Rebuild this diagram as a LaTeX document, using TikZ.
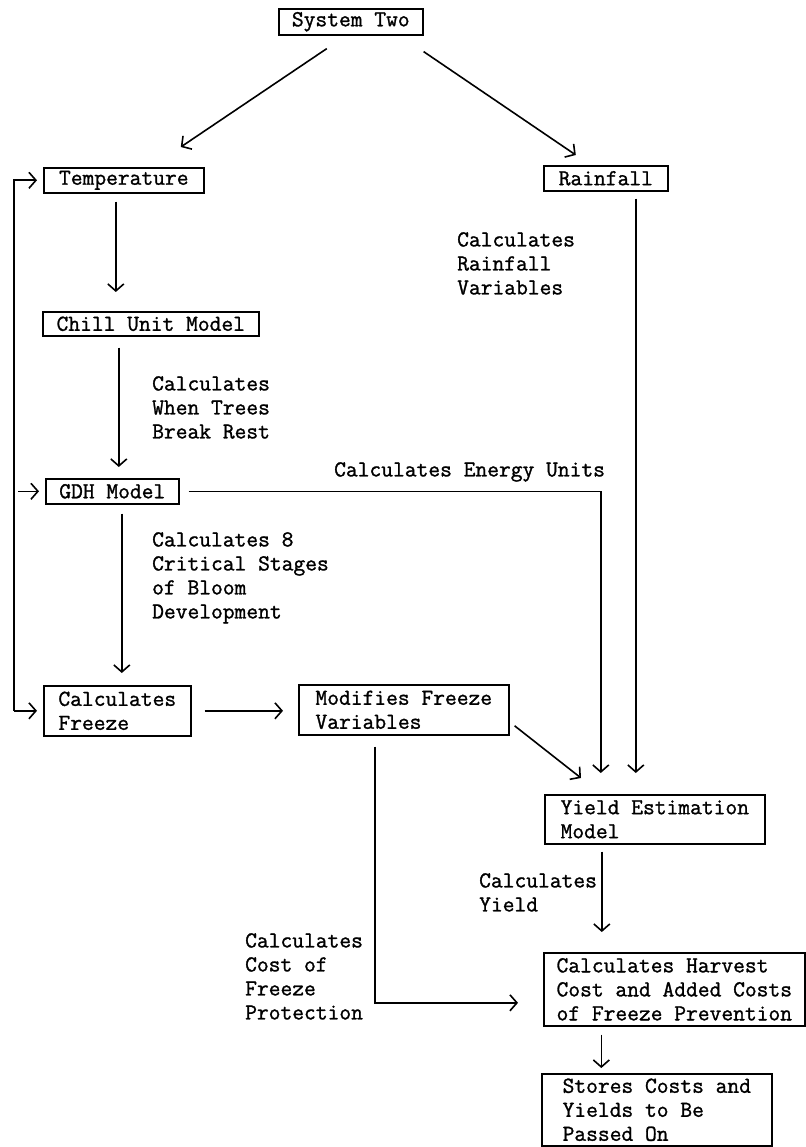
\documentclass[tikz,border=0pt]{standalone}
\usepackage{fontspec}
\usepackage{xcolor}
\usetikzlibrary{arrows.meta,positioning}
\newfontfamily\typewr{Latin Modern Mono}[FakeBold=1.2]
\tikzset{
  box/.style={
    draw,
    line width=1.6pt,
    anchor=north west,
    align=left,
    inner xsep=12pt,
    inner ysep=2pt,
    font=\typewr\fontsize{22.86pt}{24pt}\selectfont
  },
  lab/.style={
    anchor=north west,
    align=left,
    inner sep=0pt,
    font=\typewr\fontsize{22.86pt}{24pt}\selectfont
  },
  flow/.style={-{Straight Barb[length=7pt,width=16pt]}, line width=1.6pt}
}
\begin{document}
\begin{tikzpicture}[x=1pt,y=-1pt]
  \useasboundingbox (0,0) rectangle (805,1147);

  \node[box, minimum width=144pt, minimum height=26pt] (sys) at (278,8) {System Two};
  \node[box, minimum width=160pt, minimum height=25pt] (temp) at (43,167) {Temperature};
  \node[box, minimum width=124pt, minimum height=25pt] (rain) at (543,165) {Rainfall};
  \node[box, minimum width=216pt, minimum height=24pt] (chill) at (42,311) {Chill Unit Model};
  \node[box, minimum width=133pt, minimum height=25pt] (gdh) at (45,478) {GDH Model};
  \node[box, minimum width=147pt, minimum height=50pt] (freeze) at (43,685) {Calculates\\Freeze};
  \node[box, minimum width=210pt, minimum height=50pt] (modif) at (298,684) {Modifies Freeze\\Variables};
  \node[box, minimum width=220pt, minimum height=49pt] (yield) at (544,794) {Yield Estimation\\Model};
  \node[box, minimum width=261pt, minimum height=73pt] (harvest) at (543,952) {Calculates Harvest\\Cost and Added Costs\\of Freeze Prevention};
  \node[box, minimum width=230pt, minimum height=72pt] (stores) at (541,1073) {Stores Costs and\\Yields to Be\\Passed On};

  \node[lab] (rainlab) at (457,232) {Calculates\\Rainfall\\Variables};
  \node[lab] (chilllab) at (152,376) {Calculates\\When Trees\\Break Rest};
  \node[lab] (energylab) at (334,462) {Calculates Energy Units};
  \node[lab] (bloomlab) at (152,532) {Calculates 8\\Critical Stages\\of Bloom\\Development};
  \node[lab] (yieldlab) at (479,873) {Calculates\\Yield};
  \node[lab] (costlab) at (245,933) {Calculates\\Cost of\\Freeze\\Protection};

  \coordinate (t1) at ([xshift=-8pt]temp.south);
  \coordinate (c1) at ([xshift=-32pt]chill.south);
  \coordinate (g1) at ([xshift=9.5pt]gdh.south);
  \coordinate (y1) at ([xshift=-53pt]yield.south);
  \coordinate (h1) at ([xshift=-73pt]harvest.south);
  \coordinate (m1) at ([xshift=-29pt]modif.south);
  \coordinate (ltop) at ([xshift=-29pt]temp.west);
  \coordinate (lbot) at ([xshift=-29pt]freeze.west);

  \draw[flow] ([shift={(-24pt,-13pt)}]sys.south) -- ([shift={(57pt,20pt)}]temp.north);
  \draw[flow] ([shift={(0pt,-16pt)}]sys.south east) -- ([shift={(-30pt,10pt)}]rain.north);
  \draw[flow, shorten <=8pt, shorten >=19pt] (t1) -- (t1 |- chill.north);
  \draw[flow, shorten <=11pt, shorten >=11pt] (c1) -- (c1 |- gdh.north);
  \draw[flow, shorten <=9pt, shorten >=12pt] (g1) -- (g1 |- freeze.north);
  \draw[flow, shorten <=13pt, shorten >=15pt] (freeze.east) -- (freeze.east -| modif.west);
  \draw[flow] ([shift={(5pt,-16pt)}]modif.east) -- ([shift={(37pt,16pt)}]yield.north west);
  \draw[flow, shorten <=9pt] (gdh.east) -| ([shift={(-54pt,21pt)}]yield.north);
  \draw[flow] ([shift={(30pt,-7pt)}]rain.south) -- ([shift={(-19pt,21pt)}]yield.north);
  \draw[flow, shorten <=7pt, shorten >=20pt] (y1) -- (y1 |- harvest.north);
  \draw[flow, shorten <=8pt, shorten >=5pt] (h1) -- (h1 |- stores.north);
  \draw[flow, shorten <=11pt, shorten >=25pt] (m1) |- ([yshift=-13.5pt]harvest.west);
  \draw[flow, shorten >=6pt] (lbot) |- (temp.west);
  \draw[flow, shorten >=6pt] (lbot) -- (freeze.west);
  \draw[flow, shorten <=4pt, shorten >=6pt] (ltop |- gdh.west) -- (gdh.west);
\end{tikzpicture}
\end{document}
